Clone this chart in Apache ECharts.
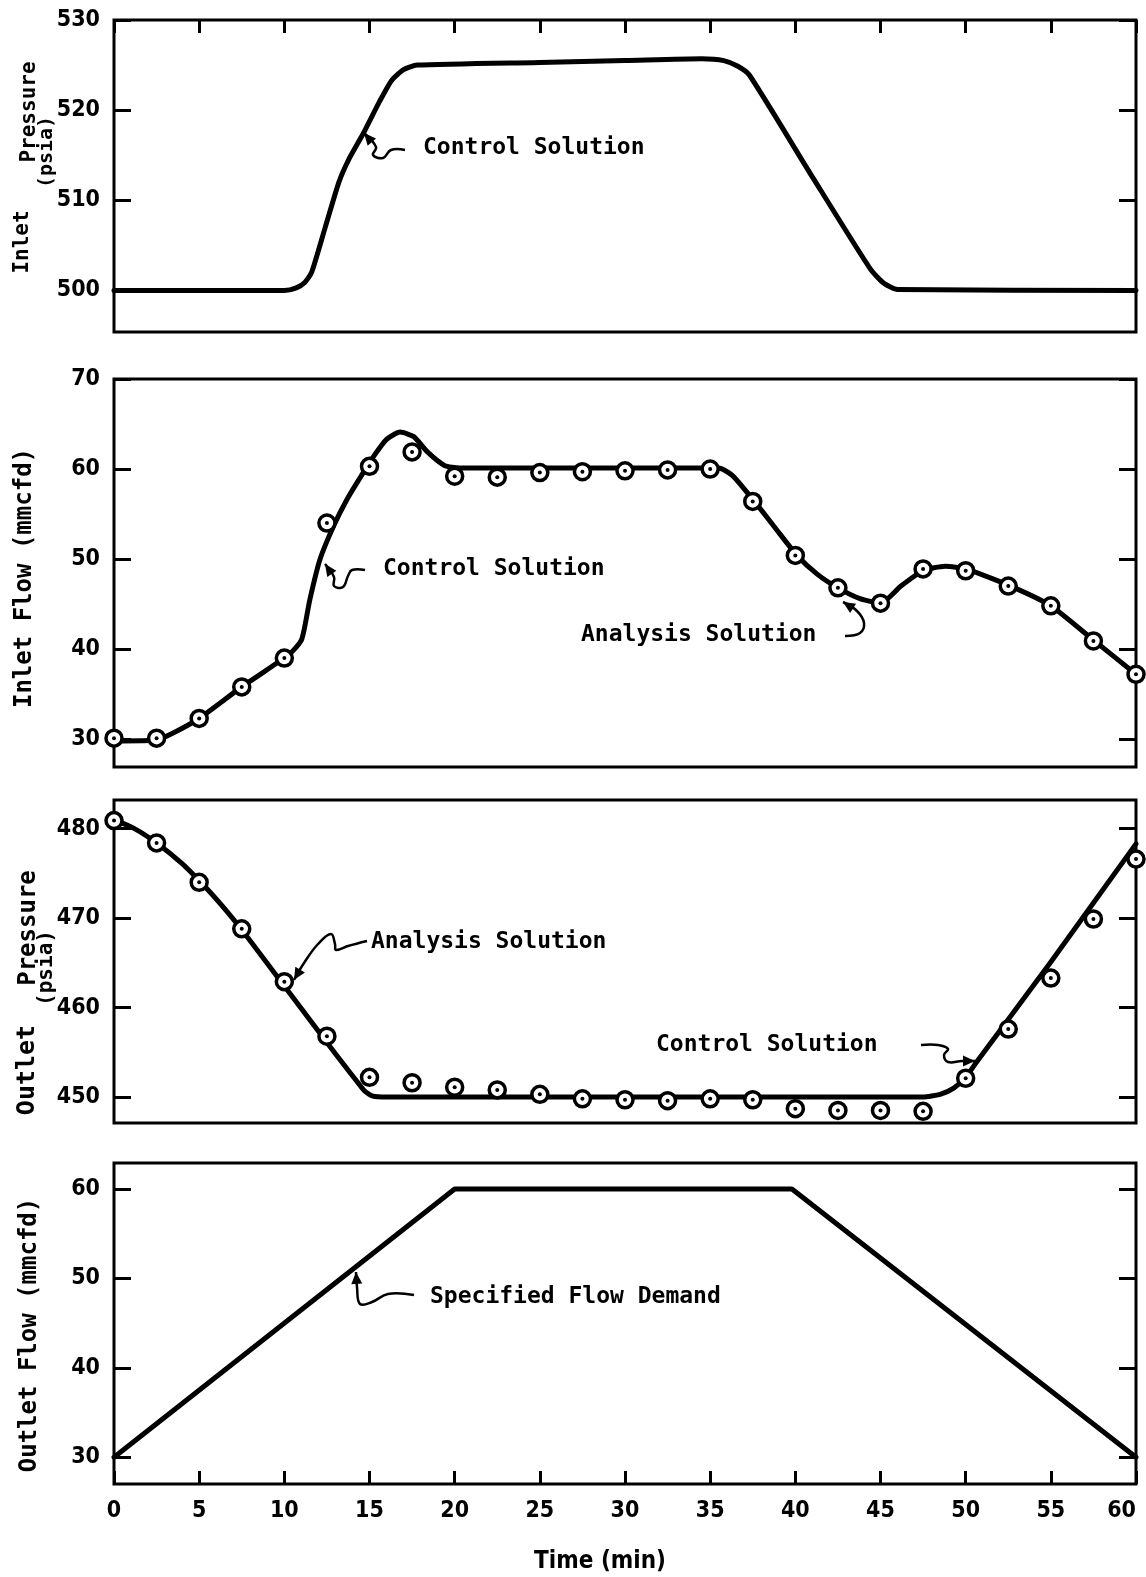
<!DOCTYPE html>
<html>
<head>
<meta charset="utf-8">
<title>Inlet / outlet transient</title>
<script src="https://cdn.jsdelivr.net/npm/echarts@6/dist/echarts.min.js"></script>
</head>
<body style="margin:0;background:#fff">
<div id="container" style="width:1146px;height:1577px"></div>
<script>
// time axis (min)
var timeTicks = [0, 5, 10, 15, 20, 25, 30, 35, 40, 45, 50, 55, 60];

// panel 1 - inlet pressure (psia), control solution
var inletPressureTicks = [500, 510, 520, 530];
var inletPressureTime = [0, 10, 10.7, 11.2, 11.6, 12.4, 13.2, 13.8, 14.6, 15.6, 16.3, 17, 17.8, 25, 30, 34.5, 35.8, 36.6, 37.3, 41, 44.4, 45.2, 46, 60];
var inletPressureCtrl = [500, 500, 500.3, 500.9, 502, 507, 512, 514.6, 517.3, 521, 523.3, 524.5, 525, 525.3, 525.5, 525.7, 525.5, 524.9, 523.9, 512.6, 502.4, 500.8, 500.1, 500];

// panel 2 - inlet flow (mmcfd)
var inletFlowTicks = [30, 40, 50, 60, 70];
var inletFlowTime = [0, 2.5, 3.5, 5, 7.5, 10, 10.5, 11, 11.2, 11.5, 12.1, 12.9, 13.7, 14.5, 15.2, 16, 16.8, 17.6, 18.4, 19.4, 20.3, 35.5, 36.3, 37.6, 38.8, 40.1, 41.3, 42.5, 43.8, 45, 46.2, 47.5, 48.8, 50, 52.5, 55, 57.5, 60];
var inletFlowCtrl = [29.8, 29.9, 30.7, 32.3, 35.8, 39, 39.8, 41, 42.5, 45.5, 50, 53.7, 56.7, 59.2, 61.3, 63.3, 64.1, 63.6, 61.9, 60.4, 60.1, 60.1, 59.3, 56.4, 53.5, 50.4, 48.3, 46.8, 45.6, 45.1, 47, 48.7, 49.2, 48.9, 47.1, 44.8, 41, 37.2];

// analysis solution sample times (min)
var analysisTime = [0, 2.5, 5, 7.5, 10, 12.5, 15, 17.5, 20, 22.5, 25, 27.5, 30, 32.5, 35, 37.5, 40, 42.5, 45, 47.5, 50, 52.5, 55, 57.5, 60];
var inletFlowAnalysis = [30.1, 30.1, 32.3, 35.8, 39.0, 54.0, 60.3, 61.9, 59.2, 59.1, 59.6, 59.7, 59.8, 59.9, 60.0, 56.4, 50.4, 46.8, 45.1, 48.9, 48.7, 47.0, 44.8, 40.9, 37.2];

// panel 3 - outlet pressure (psia)
var outletPressureTicks = [450, 460, 470, 480];
var outletPressureTime = [0, 1.2, 2.5, 4, 5, 6.2, 7.5, 10, 12.5, 13.5, 14.2, 14.7, 15.2, 16, 47.5, 48.5, 49.3, 50, 50.6, 55, 60];
var outletPressureCtrl = [481, 480, 478.4, 476.1, 474.2, 471.7, 468.7, 462.4, 456.1, 453.6, 451.9, 450.7, 450.1, 450, 450, 450.3, 451, 452.2, 453.8, 465.1, 478.3];
var outletPressureAnalysis = [480.9, 478.4, 474.0, 468.8, 462.9, 456.8, 452.2, 451.6, 451.1, 450.8, 450.3, 449.8, 449.7, 449.6, 449.8, 449.7, 448.7, 448.5, 448.5, 448.4, 452.1, 457.6, 463.3, 469.9, 476.6];

// panel 4 - outlet flow (mmcfd), specified demand
var outletFlowTicks = [30, 40, 50, 60];
var outletFlowTime = [0, 20, 39.8, 60];
var outletFlowDemand = [30, 60, 60, 30];

function zip(a, b) {
    return a.map(function (v, i) { return [v, b[i]]; });
}

var numFont = "'DejaVu Sans Condensed','Liberation Sans Narrow','DejaVu Sans',sans-serif";
var monoFont = "'DejaVu Sans Mono','Liberation Mono',monospace";

var panels = [
    {top: 20, height: 312, min: 495.4, max: 530, ticks: inletPressureTicks},
    {top: 379, height: 388, min: 26.9, max: 70, ticks: inletFlowTicks},
    {top: 800, height: 323, min: 447.1, max: 483.2, ticks: outletPressureTicks},
    {top: 1163, height: 321, min: 27, max: 62.9, ticks: outletFlowTicks}
];

var grid = [], xAxis = [], yAxis = [];
panels.forEach(function (p, i) {
    grid.push({
        left: 114, right: 10, top: p.top, height: p.height,
        show: true, borderColor: '#000', borderWidth: 3, backgroundColor: 'transparent'
    });
    var tickShown = (i === 0 || i === 3);
    xAxis.push({
        type: 'value', gridIndex: i, min: 0, max: 60, interval: 5,
        position: i === 0 ? 'top' : 'bottom',
        axisLine: {show: false},
        splitLine: {show: false},
        axisTick: {show: tickShown, inside: true, length: 13, lineStyle: {color: '#000', width: 3}},
        axisLabel: {
            show: i === 3, margin: 16, color: '#000', fontFamily: numFont,
            fontWeight: 'bold', fontSize: 23, alignMaxLabel: 'right',
            customValues: timeTicks
        }
    });
    ['left', 'right'].forEach(function (side) {
        yAxis.push({
            type: 'value', gridIndex: i, min: p.min, max: p.max, position: side,
            axisLine: {show: false},
            splitLine: {show: false},
            axisTick: {show: true, inside: true, length: 17, customValues: p.ticks,
                lineStyle: {color: '#000', width: 3}},
            axisLabel: {
                show: side === 'left', margin: 14, color: '#000', fontFamily: numFont,
                fontWeight: 'bold', fontSize: 23, customValues: p.ticks
            }
        });
    });
});

function ctrlLine(idx, data, smooth) {
    return {
        type: 'line', xAxisIndex: idx, yAxisIndex: idx * 2, data: data,
        showSymbol: false, smooth: smooth,
        lineStyle: {color: '#000', width: 5, join: 'round', cap: 'round'}, z: 2, silent: true
    };
}
function rings(idx, data) {
    return [{
        type: 'scatter', xAxisIndex: idx, yAxisIndex: idx * 2, data: data,
        symbol: 'circle', symbolSize: 16, silent: true, z: 3,
        itemStyle: {color: '#fff', borderColor: '#000', borderWidth: 3.5, opacity: 1}
    }, {
        type: 'scatter', xAxisIndex: idx, yAxisIndex: idx * 2, data: data,
        symbol: 'circle', symbolSize: 4, silent: true, z: 4,
        itemStyle: {color: '#000', opacity: 1}
    }];
}

var series = [
    ctrlLine(0, zip(inletPressureTime, inletPressureCtrl), 0.2),
    ctrlLine(1, zip(inletFlowTime, inletFlowCtrl), 0.2),
    ctrlLine(2, zip(outletPressureTime, outletPressureCtrl), 0.2),
    ctrlLine(3, zip(outletFlowTime, outletFlowDemand), false)
].concat(rings(1, zip(analysisTime, inletFlowAnalysis)))
 .concat(rings(2, zip(analysisTime, outletPressureAnalysis)));

// hand-drawn style arrows for the annotations
function arrow(pts) {
    var tip = pts[0], prev = pts[1];
    var dx = tip[0] - prev[0], dy = tip[1] - prev[1];
    var len = Math.sqrt(dx * dx + dy * dy);
    var ux = dx / len, uy = dy / len, hl = 12, hw = 5.5;
    var bx = tip[0] - ux * hl, by = tip[1] - uy * hl;
    return [
        {type: 'polyline', shape: {points: pts, smooth: 0.4},
            style: {stroke: '#000', lineWidth: 2.5, fill: null}, z: 10},
        {type: 'polygon', shape: {points: [tip, [bx - uy * hw, by + ux * hw], [bx + uy * hw, by - ux * hw]]},
            style: {fill: '#000'}, z: 10}
    ];
}
function label(text, x, y, size) {
    return {type: 'text', x: x, y: y, z: 10,
        style: {text: text, fill: '#000', font: 'bold ' + (size || 23) + 'px ' + monoFont,
            textAlign: 'left', textVerticalAlign: 'middle', align: 'left', verticalAlign: 'middle'}};
}
function vtitle(text, x, y, size) {
    return {type: 'text', x: x, y: y, rotation: Math.PI / 2, z: 10,
        style: {text: text, fill: '#000', font: 'bold ' + size + 'px ' + monoFont,
            textAlign: 'center', textVerticalAlign: 'middle', align: 'center', verticalAlign: 'middle'}};
}

var graphic = [
    label('Control Solution', 423, 148),
    label('Control Solution', 383, 569),
    label('Analysis Solution', 581, 635),
    label('Analysis Solution', 371, 942),
    label('Control Solution', 656, 1045),
    label('Specified Flow Demand', 430, 1297),
    vtitle('Inlet', 23, 242, 21),
    vtitle('Pressure', 30, 112, 21),
    vtitle('(psia)', 47, 152, 20),
    vtitle('Inlet Flow (mmcfd)', 25, 578, 24),
    vtitle('Outlet', 27, 1070, 25),
    vtitle('Pressure', 29, 928, 24),
    vtitle('(psia)', 47, 968, 21),
    vtitle('Outlet Flow (mmcfd)', 30, 1335, 24),
    {type: 'text', x: 600, y: 1562, z: 10,
        style: {text: 'Time (min)', fill: '#000', font: 'bold 24px ' + numFont,
            textAlign: 'center', textVerticalAlign: 'middle', align: 'center', verticalAlign: 'middle'}}
]
.concat(arrow([[364, 133], [376, 147], [373, 155], [383, 158], [391, 150], [405, 150]]))
.concat(arrow([[325, 564], [334, 577], [334, 586], [343, 587], [348, 576], [352, 570], [365, 570]]))
.concat(arrow([[843, 602], [857, 611], [864, 623], [860, 633], [845, 636]]))
.concat(arrow([[294, 980], [304, 963], [318, 944], [331, 934], [335, 944], [336, 950], [348, 946], [367, 941]]))
.concat(arrow([[975, 1061], [962, 1061], [948, 1062], [944, 1055], [948, 1049], [938, 1045], [921, 1045]]))
.concat(arrow([[356, 1272], [357, 1287], [360, 1304], [372, 1302], [388, 1294], [414, 1295]]));

var dom = document.getElementById('container');
var myChart = echarts.init(dom, null, {renderer: 'canvas'});
var option = {
    animation: false,
    backgroundColor: '#fff',
    grid: grid,
    xAxis: xAxis,
    yAxis: yAxis,
    series: series,
    graphic: graphic
};
myChart.setOption(option);
</script>
</body>
</html>
